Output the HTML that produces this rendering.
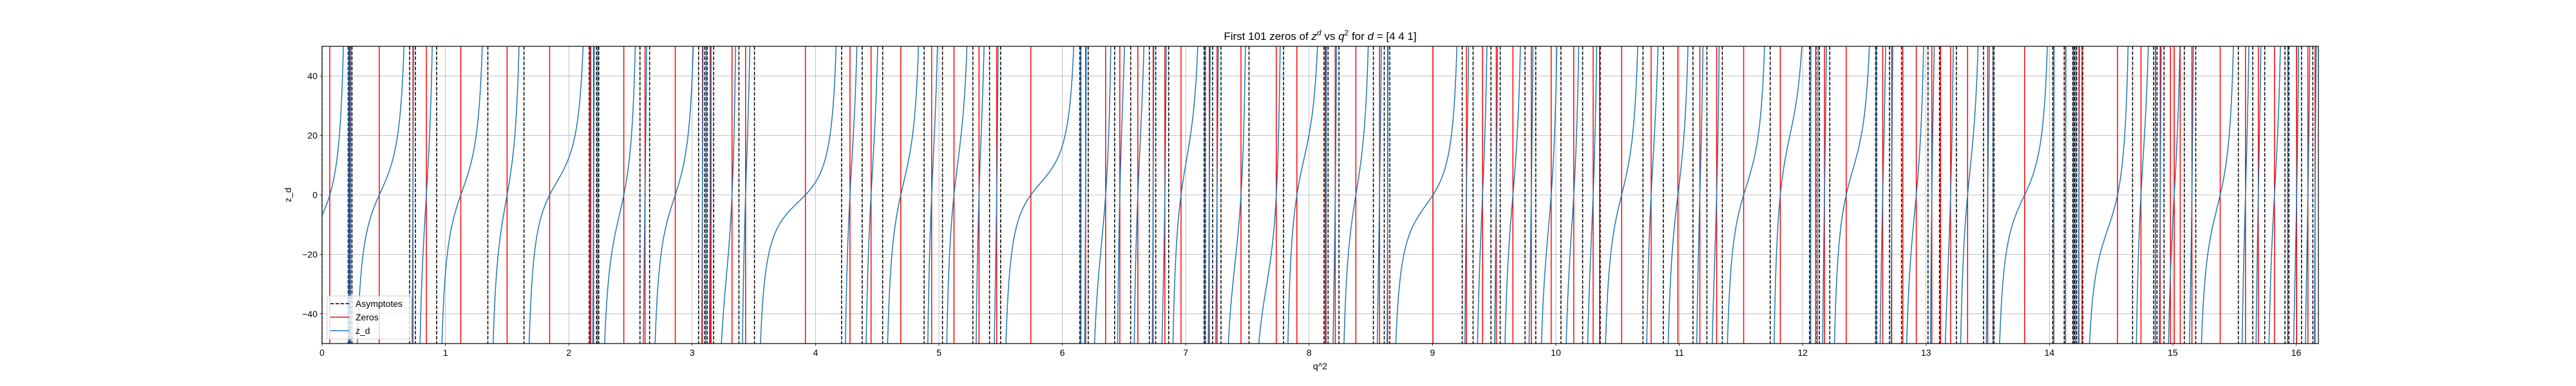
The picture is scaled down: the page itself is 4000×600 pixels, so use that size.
<!DOCTYPE html>
<html><head><meta charset="utf-8">
<style>
html,body{margin:0;padding:0;background:#fff;}
svg{display:block;font-family:"Liberation Sans","DejaVu Sans",sans-serif;}
</style></head>
<body>
<svg id="chart" width="4000" height="600" viewBox="0 0 4000 600" xmlns="http://www.w3.org/2000/svg">
  <defs><clipPath id="plotclip"><rect x="500" y="72" width="3100" height="462"/></clipPath></defs>
  <rect x="0" y="0" width="4000" height="600" fill="#fff"/>
  <g id="grid"></g>
  <g id="asym" clip-path="url(#plotclip)"></g>
  <g id="zeros" clip-path="url(#plotclip)"></g>
  <g id="curve" clip-path="url(#plotclip)"></g>
  <rect x="500" y="72" width="3100" height="462" fill="none" stroke="#000" stroke-width="1.2"/>
  <g id="xticks"></g>
  <g id="yticks"></g>
  <text x="2050" y="62" text-anchor="middle" font-size="17">First 101 zeros of <tspan font-style="italic">z</tspan><tspan font-style="italic" font-size="12" dy="-7">d</tspan><tspan dy="7"> vs </tspan><tspan font-style="italic">q</tspan><tspan font-size="12" dy="-7">2</tspan><tspan dy="7"> for </tspan><tspan font-style="italic">d</tspan> = [4 4 1]</text>
  <text x="2050" y="574" text-anchor="middle" font-size="14">q^2</text>
  <text x="0" y="0" transform="translate(452,303) rotate(-90)" text-anchor="middle" font-size="14">z_d</text>
  <g>
    <rect x="508" y="460" width="131" height="67" rx="3" fill="#fff" fill-opacity="0.8" stroke="#ccc" stroke-width="1"/>
    <line x1="513" y1="472" x2="542" y2="472" stroke="#000" stroke-width="1.5" stroke-dasharray="5.5,2.4"/>
    <text x="552" y="477" font-size="14">Asymptotes</text>
    <line x1="513" y1="493" x2="542" y2="493" stroke="#ff0000" stroke-width="1.5"/>
    <text x="552" y="498" font-size="14">Zeros</text>
    <line x1="513" y1="514" x2="542" y2="514" stroke="#1f77b4" stroke-width="1.5"/>
    <text x="552" y="519" font-size="14">z_d</text>
  </g>
</svg>
<script>
const asymptotes = [0.0,0.212,0.221,0.243,0.710,0.757,0.929,1.344,1.637,2.165,2.174,2.225,2.243,2.577,2.655,
 3.052,3.102,3.122,3.174,3.379,3.505,4.211,4.378,4.544,4.880,5.029,5.275,
 5.410,5.500,6.142,6.151,6.210,6.424,6.554,6.705,6.757,6.862,7.149,7.160,7.218,7.286,7.513,7.793,8.121,
 8.154,8.242,8.521,8.609,8.654,9.241,9.329,9.474,9.549,9.750,9.837,10.041,10.217,10.360,10.706,
 10.871,11.111,11.224,11.349,11.737,12.056,12.109,12.136,12.220,12.591,12.600,12.704,12.801,13.016,13.109,13.246,13.466,
 13.542,13.551,14.027,14.120,14.189,14.203,14.221,14.270,14.674,14.845,14.872,14.929,15.093,15.186,15.531,15.648,15.745,15.909,15.941,16.043,16.135];
const zeros = [0.063,0.226,0.232,0.464,0.737,0.846,1.125,1.500,1.845,2.178,2.201,2.446,2.618,
 2.863,3.083,3.146,3.153,3.323,3.433,3.918,4.279,4.450,4.691,4.941,5.122,5.325,
 5.468,5.745,6.149,6.189,6.351,6.466,6.612,6.736,6.831,6.962,7.156,7.191,7.254,7.448,7.734,7.901,
 8.131,8.138,8.212,8.379,8.571,8.637,9.004,9.275,9.406,9.517,9.652,9.801,9.962,10.145,10.302,10.354,10.533,10.772,
 10.989,11.167,11.303,11.522,11.819,12.065,12.106,12.177,12.353,12.595,12.649,12.722,12.812,12.921,13.047,13.118,13.199,13.337,13.500,13.545,
 13.799,14.036,14.131,14.196,14.239,14.264,14.552,14.742,14.859,14.898,14.981,15.012,15.060,15.155,15.384,15.589,15.693,15.824,15.932,16.004,16.095,16.153];
const xTicks = [0,1,2,3,4,5,6,7,8,9,10,11,12,13,14,15,16];
const yTicks = [-40,-20,0,20,40];

const X0=500, X1=3600, Y0=72, Y1=534, XMIN=0, XMAX=16.18, YMIN=-50, YMAX=50;
const NS='http://www.w3.org/2000/svg';
function sx(v){return X0+(v-XMIN)/(XMAX-XMIN)*(X1-X0);}
function sy(v){return Y1-(v-YMIN)/(YMAX-YMIN)*(Y1-Y0);}
function mk(tag,attrs,parent){const e=document.createElementNS(NS,tag);for(const k in attrs)e.setAttribute(k,attrs[k]);parent.appendChild(e);return e;}

const grid=document.getElementById('grid'), xt=document.getElementById('xticks'), yt=document.getElementById('yticks');
xTicks.forEach(t=>{
  const g=mk('line',{x1:sx(t),x2:sx(t),y1:Y0,y2:Y1,stroke:'#b0b0b0','stroke-width':0.8},grid);
  
  
  const tk=mk('line',{x1:sx(t),x2:sx(t),y1:Y1,y2:Y1+3.5,stroke:'#000','stroke-width':0.8},xt);
  
  
  const lb=mk('text',{x:sx(t),y:Y1+19,'text-anchor':'middle','font-size':14},xt);
  lb.textContent=String(t);
  
  
});
yTicks.forEach(t=>{
  const g=mk('line',{x1:X0,x2:X1,y1:sy(t),y2:sy(t),stroke:'#b0b0b0','stroke-width':0.8},grid);
  
  
  const tk=mk('line',{x1:X0-3.5,x2:X0,y1:sy(t),y2:sy(t),stroke:'#000','stroke-width':0.8},yt);
  
  
  const lb=mk('text',{x:X0-7,y:sy(t)+5,'text-anchor':'end','font-size':14},yt);
  lb.textContent=(t<0?'\u2212'+(-t):String(t));
  
  
});

const ag=document.getElementById('asym');
asymptotes.forEach(a=>{
  const l=mk('line',{x1:sx(a),x2:sx(a),y1:Y0,y2:Y1,stroke:'#000','stroke-width':1.5,'stroke-dasharray':'5.5,2.4'},ag);
  
  
});
const zg=document.getElementById('zeros');
zeros.forEach(z=>{
  const l=mk('line',{x1:sx(z),x2:sx(z),y1:Y0,y2:Y1,stroke:'#ff0000','stroke-width':1.5},zg);
  
  
});

// curve: monotone branch between consecutive poles, passing through the zero in each interval
const cg=document.getElementById('curve');
const poles=asymptotes.filter(a=>a>0).sort((a,b)=>a-b);
const bounds=[-0.25].concat(poles).concat([XMAX+0.3]);
const C=2.5;
for(let i=0;i<bounds.length-1;i++){
  const L=bounds[i], R=bounds[i+1];
  if(R-L<1e-4) continue;
  const mid=(L+R)/2;
  let z0=mid, best=Infinity;
  zeros.forEach(z=>{if(z>L&&z<R&&Math.abs(z-mid)<best){best=Math.abs(z-mid);z0=z;}});
  const off=-C*(1/(R-z0)-1/(z0-L));
  let d='';
  const N=240;
  for(let k=1;k<N;k++){
    const t=0.5-0.5*Math.cos(Math.PI*k/N);
    const x=L+(R-L)*t;
    let y=C*(1/(R-x)-1/(x-L))+off;
    y=Math.max(-70,Math.min(70,y));
    d+=(k===1?'M':'L')+sx(x).toFixed(2)+','+sy(y).toFixed(2);
  }
  const p=mk('path',{d:d,fill:'none',stroke:'#1f77b4','stroke-width':1.5},cg);
  
  
}
</script>
</body></html>
